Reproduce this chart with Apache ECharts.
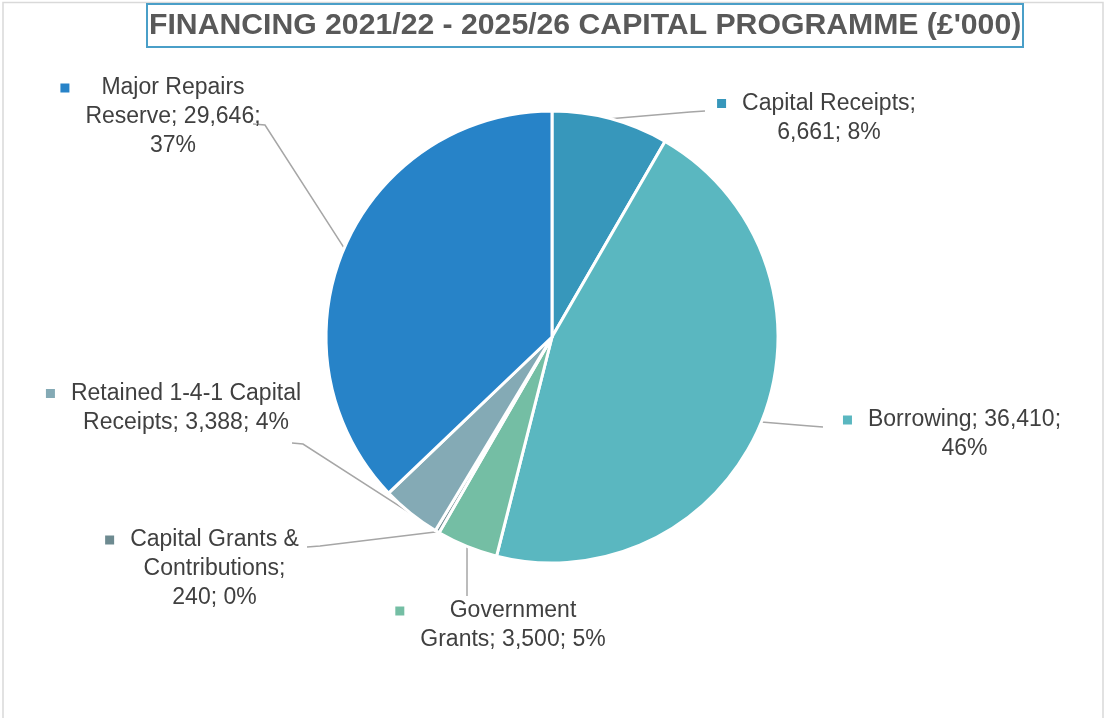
<!DOCTYPE html>
<html>
<head>
<meta charset="utf-8">
<script src="https://cdn.jsdelivr.net/npm/echarts@6/dist/echarts.min.js"></script>
<style>
  html, body { margin: 0; padding: 0; background: #ffffff; }
  #chart { width: 1106px; height: 718px; }
</style>
</head>
<body>
<div id="chart"></div>
<script>
// Capital programme financing sources (£'000), clockwise from 12 o'clock
const categories = [
  'Capital Receipts',
  'Borrowing',
  'Government Grants',
  'Capital Grants & Contributions',
  'Retained 1-4-1 Capital Receipts',
  'Major Repairs Reserve'
];
const values = [6661, 36410, 3500, 240, 3388, 29646];
const sliceColors = ['#3797bb', '#5ab7c0', '#74bea4', '#6d8a90', '#84aab5', '#2783c8'];
const titleText = "FINANCING 2021/22 - 2025/26 CAPITAL PROGRAMME (£'000)";

// Where each data label sits: block centre, wrap width, and the leader's elbow + end
const labelSpots = [
  { x: 829,   y: 118,   wrap: 190, line: [[690, 112], [705, 111]] },
  { x: 964.5, y: 434.5, wrap: 215, line: [[810, 426], [823, 427]] },
  { x: 513,   y: 625.5, wrap: 196, line: [[467, 590], [467, 596]] },
  { x: 214.5, y: 569,   wrap: 180, line: [[320, 546], [307, 547]] },
  { x: 186,   y: 408,   wrap: 245, line: [[303, 444], [292, 443]] },
  { x: 173,   y: 117,   wrap: 190, line: [[265, 125], [253, 124]] }
];

const LABEL_FONT = '"Liberation Sans", Arial, Helvetica, sans-serif';
const LABEL_SIZE = 23;

const measureCtx = document.createElement('canvas').getContext('2d');
measureCtx.font = LABEL_SIZE + 'px ' + LABEL_FONT;

function wrapWords(text, maxWidth) {
  const words = text.split(' ');
  const lines = [];
  let cur = '';
  words.forEach(function (w) {
    const trial = cur ? cur + ' ' + w : w;
    if (cur && measureCtx.measureText(trial).width > maxWidth) {
      lines.push(cur);
      cur = w;
    } else {
      cur = trial;
    }
  });
  if (cur) lines.push(cur);
  return lines;
}

const rich = {
  gap:  { width: 16, align: 'left' },
  padL: { width: 25, align: 'left' },
  padR: { width: 25, align: 'right' },
  t: {
    fontSize: LABEL_SIZE,
    fontFamily: LABEL_FONT,
    color: '#404040',
    lineHeight: 29,
    align: 'center'
  }
};
sliceColors.forEach(function (c, i) {
  rich['key' + i] = { width: 9, height: 9, backgroundColor: c, align: 'left' };
});

const pieData = categories.map(function (name, i) {
  return { name: name, value: values[i], itemStyle: { color: sliceColors[i] } };
});

const PIE_CENTER = [552, 337];
const PIE_RADIUS = 226;

const chart = echarts.init(document.getElementById('chart'), null, { renderer: 'canvas' });

chart.setOption({
  animation: false,
  backgroundColor: '#ffffff',
  graphic: [{
    type: 'rect',
    z: -10,
    shape: { x: 3, y: 2.5, width: 1100, height: 730 },
    style: { fill: 'none', stroke: '#d9d9d9', lineWidth: 1.5 }
  }],
  title: {
    text: titleText,
    left: 147,
    top: 4,
    padding: [6, 2, 5, 2],
    borderColor: '#4a9fc8',
    borderWidth: 2,
    textStyle: {
      fontSize: 30.2,
      lineHeight: 32,
      fontWeight: 'bold',
      color: '#595959',
      fontFamily: LABEL_FONT
    }
  },
  series: [{
    type: 'pie',
    center: PIE_CENTER,
    radius: PIE_RADIUS,
    startAngle: 90,
    clockwise: true,
    percentPrecision: 0,
    avoidLabelOverlap: false,
    data: pieData,
    itemStyle: { borderColor: '#ffffff', borderWidth: 3 },
    label: {
      show: true,
      position: 'outside',
      rich: rich,
      formatter: function (p) {
        const text = p.name + '; ' + echarts.format.addCommas(p.value) + '; ' + p.percent + '%';
        const lines = wrapWords(text, labelSpots[p.dataIndex].wrap);
        return lines.map(function (ln, k) {
          const lead = k === 0 ? '{key' + p.dataIndex + '| }{gap| }' : '{padL| }';
          return lead + '{t|' + ln + '}{padR| }';
        }).join('\n');
      }
    },
    labelLine: {
      show: true,
      length: 10,
      length2: 10,
      lineStyle: { color: '#a6a6a6', width: 1.5 }
    },
    labelLayout: function (params) {
      const spot = labelSpots[params.dataIndex];
      let start = params.labelLinePoints && params.labelLinePoints[0];
      if (!start) {
        const total = values.reduce(function (a, b) { return a + b; }, 0);
        let before = 0;
        for (let i = 0; i < params.dataIndex; i++) before += values[i];
        const ang = (before + values[params.dataIndex] / 2) / total * Math.PI * 2;
        start = [PIE_CENTER[0] + PIE_RADIUS * Math.sin(ang), PIE_CENTER[1] - PIE_RADIUS * Math.cos(ang)];
      }
      return {
        x: spot.x,
        y: spot.y,
        align: 'center',
        verticalAlign: 'middle',
        labelLinePoints: [start, spot.line[0], spot.line[1]]
      };
    },
    emphasis: { disabled: true }
  }]
});
</script>
</body>
</html>
